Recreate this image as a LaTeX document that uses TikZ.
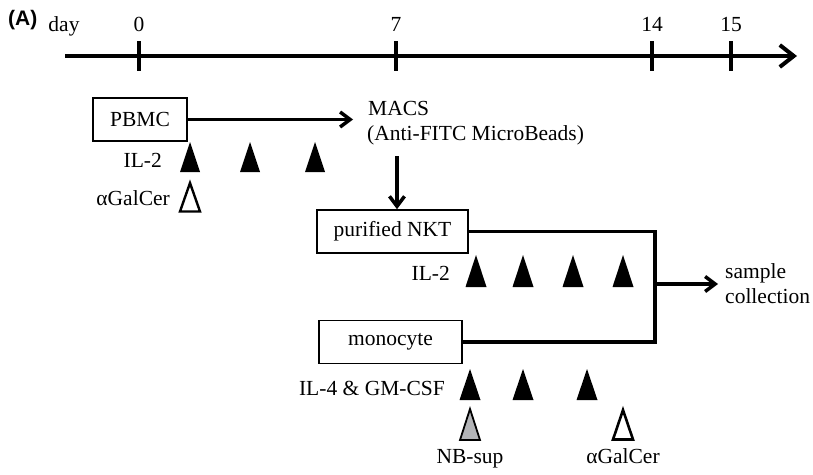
\documentclass[tikz,border=0pt]{standalone}
\usepackage{fontspec}
\setmainfont{Liberation Serif}
\newfontfamily\panelfont{Liberation Sans}
\usetikzlibrary{arrows.meta}

\definecolor{supgray}{HTML}{B3B4B7}

\tikzset{
  txt/.style={font=\fontsize{21.5}{25}\selectfont, inner sep=0pt},
  box/.style={draw, line width=1.6pt, minimum height=43pt, inner sep=0pt,
    font=\fontsize{21.5}{25}\selectfont},
  flow/.style={line width=3.5pt, -{Straight Barb[length=10pt,width=15pt]}},
  link/.style={line width=3.5pt},
}

\begin{document}
\begin{tikzpicture}[x=1pt,y=-1pt]
  \useasboundingbox (0,0) rectangle (813,474);

  % time axis
  \draw[line width=4pt,-{Straight Barb[length=14pt,width=22pt]}] (65,56) -- (797,56);
  \foreach \x/\d in {139/0,396/7,652/14,731/15} {
    \draw[line width=4pt] (\x,41) -- (\x,71);
    \node[txt,anchor=base] (day\d) at (\x,31) {\d};
  }
  \node[txt,anchor=base] (day) at (64,31) {day};
  \node[anchor=base west,inner sep=0pt,
    font=\panelfont\bfseries\fontsize{21}{24}\selectfont] (panel) at (8,25) {(A)};

  % cells
  \node[box,minimum width=94pt] (pbmc) at (140,119.5) {PBMC};
  \node[txt,anchor=base west] (macs) at (368,115) {MACS};
  \node[txt,anchor=base west] (beads) at (367,140) {(Anti-FITC MicroBeads)};
  \node[box,minimum width=151pt] (nkt) at (392.5,231.5) {purified NKT};
  \node[box,minimum width=143pt] (mono) at (390.5,342) {monocyte};
  \node[txt,anchor=base west] (sample) at (725,278) {sample};
  \node[txt,anchor=base west] (collect) at (725,303) {collection};

  \draw[flow,shorten >=15pt] (pbmc.east) -- (pbmc.east -| macs.west);
  \coordinate (drop) at (397,156);
  \draw[flow] (drop) -- (drop |- nkt.north);
  \coordinate (merge) at (655,284);
  \draw[link] (nkt.east) -| (merge) |- (mono.east);
  \draw[flow,shorten >=7pt] (merge) -- (merge -| sample.west);

  % day 0 - 7
  \foreach \x in {190,250,315}
    \fill (\x-10,172) -- (\x,142) -- (\x+10,172) -- cycle;
  \node[txt,anchor=base east] (il2a) at (162,167) {IL-2};
  \draw[line width=2.4pt,fill=white] (180,211.5) -- (190,183) -- (200,211.5) -- cycle;
  \node[txt,anchor=base east] (agc1) at (170,205) {αGalCer};

  % day 7 - 14
  \foreach \x in {476,523,573,623}
    \fill (\x-10.5,287) -- (\x,255) -- (\x+10.5,287) -- cycle;
  \node[txt,anchor=base east] (il2b) at (450,280) {IL-2};

  \foreach \x in {470,523,587}
    \fill (\x-10.5,400) -- (\x,369) -- (\x+10.5,400) -- cycle;
  \node[txt,anchor=base east] (ilgm) at (445,395) {IL-4 \& GM-CSF};
  \draw[line width=1.8pt,fill=supgray] (460,440) -- (470,409) -- (480,440) -- cycle;
  \draw[line width=2.6pt,fill=white] (613,439.5) -- (623,410) -- (633,439.5) -- cycle;
  \node[txt,anchor=base] (nbsup) at (470,463) {NB-sup};
  \node[txt,anchor=base] (agc2) at (623,463) {αGalCer};
\end{tikzpicture}
\end{document}
